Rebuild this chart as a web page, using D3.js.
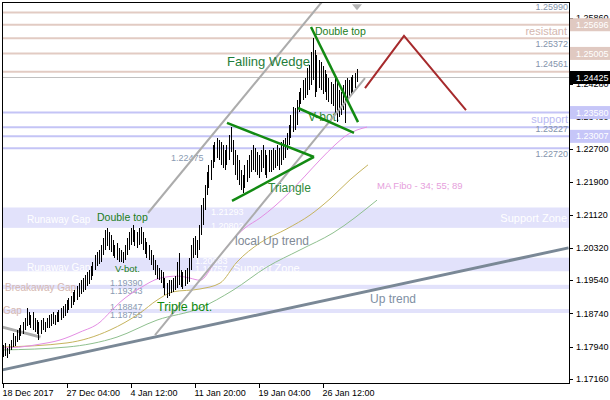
<!DOCTYPE html>
<html><head><meta charset="utf-8">
<script src="https://cdn.jsdelivr.net/npm/d3@7"></script>
<style>body{margin:0;background:#fff}svg{display:block}text{font-family:"Liberation Sans",Arial,sans-serif}</style>
</head><body><svg id="c" width="610" height="400"></svg>
<script>
// ---- data (EURUSD H4, bar index 0 = 18 Dec 2017 00:00) ----
const highs=[1.1798,1.1803,1.1791,1.1800,1.1810,1.1827,1.1820,1.1834,1.1839,1.1846,
1.1853,1.1863,1.1887,1.1878,1.1870,1.1878,1.1863,1.1858,1.1853,1.1858,
1.1863,1.1853,1.1863,1.1870,1.1873,1.1878,1.1870,1.1878,1.1882,1.1887,
1.1892,1.1897,1.1906,1.1911,1.1916,1.1926,1.1931,1.1940,1.1947,1.1955,
1.1959,1.1967,1.1974,1.1979,1.1988,1.1998,1.2015,1.2022,1.2027,1.2039,
1.2056,1.2075,1.2080,1.2070,1.2063,1.2051,1.2039,1.2044,1.2032,1.2027,
1.2022,1.2039,1.2056,1.2070,1.2080,1.2087,1.2075,1.2070,1.2080,1.2082,
1.2070,1.2056,1.2046,1.2039,1.2027,1.2015,1.2003,1.1991,1.1984,1.1979,
1.1974,1.1959,1.1947,1.1955,1.1955,1.1959,1.1964,1.1998,1.2020,1.1979,
1.1974,1.1979,1.1984,1.2008,1.2039,1.2056,1.2061,1.2051,1.2087,1.2135,
1.2152,1.2184,1.2215,1.2232,1.2244,1.2280,1.2287,1.2297,1.2292,1.2287,
1.2280,1.2268,1.2280,1.2304,1.2323,1.2292,1.2268,1.2256,1.2244,1.2220,
1.2208,1.2232,1.2244,1.2256,1.2268,1.2280,1.2273,1.2263,1.2256,1.2268,
1.2280,1.2268,1.2256,1.2268,1.2268,1.2273,1.2268,1.2280,1.2273,1.2287,
1.2292,1.2297,1.2309,1.2328,1.2352,1.2372,1.2369,1.2388,1.2408,1.2417,
1.2437,1.2441,1.2466,1.2473,1.2504,1.2537,1.2509,1.2497,1.2485,1.2480,
1.2470,1.2461,1.2451,1.2441,1.2432,1.2427,1.2441,1.2437,1.2412,1.2408,
1.2425,1.2437,1.2441,1.2437,1.2444,1.2449,1.2453,1.2463];
const lows=[1.1769,1.1771,1.1767,1.1776,1.1786,1.1793,1.1796,1.1805,1.1810,1.1820,
1.1824,1.1834,1.1844,1.1846,1.1839,1.1834,1.1829,1.1824,1.1810,1.1824,
1.1834,1.1829,1.1839,1.1839,1.1844,1.1849,1.1846,1.1853,1.1853,1.1858,
1.1863,1.1868,1.1875,1.1882,1.1887,1.1894,1.1902,1.1906,1.1914,1.1921,
1.1926,1.1931,1.1940,1.1945,1.1955,1.1964,1.1979,1.1988,1.1993,1.1998,
1.2015,1.2027,1.2037,1.2027,1.2022,1.2012,1.2008,1.2003,1.1998,1.1998,
1.1996,1.2003,1.2015,1.2027,1.2039,1.2046,1.2037,1.2032,1.2039,1.2041,
1.2027,1.2017,1.2008,1.2003,1.1991,1.1979,1.1967,1.1957,1.1955,1.1947,
1.1935,1.1918,1.1911,1.1916,1.1923,1.1926,1.1931,1.1935,1.1943,1.1938,
1.1933,1.1940,1.1945,1.1950,1.1979,1.2008,1.2015,1.2008,1.2027,1.2063,
1.2087,1.2123,1.2159,1.2176,1.2196,1.2225,1.2239,1.2249,1.2244,1.2232,
1.2225,1.2220,1.2232,1.2244,1.2263,1.2232,1.2208,1.2196,1.2184,1.2171,
1.2164,1.2176,1.2191,1.2200,1.2215,1.2220,1.2215,1.2208,1.2200,1.2215,
1.2225,1.2208,1.2200,1.2215,1.2215,1.2220,1.2225,1.2229,1.2220,1.2232,
1.2244,1.2249,1.2268,1.2280,1.2297,1.2311,1.2316,1.2328,1.2360,1.2379,
1.2388,1.2393,1.2400,1.2412,1.2425,1.2437,1.2396,1.2408,1.2417,1.2412,
1.2403,1.2408,1.2388,1.2384,1.2379,1.2374,1.2352,1.2335,1.2347,1.2352,
1.2364,1.2333,1.2388,1.2398,1.2403,1.2408,1.2417,1.2432];
const xTickIdx=[0,32,64,96,128,160];
const xTickLabels=["18 Dec 2017","27 Dec 04:00","4 Jan 12:00","11 Jan 20:00","19 Jan 04:00","26 Jan 12:00"];
const yTicks=[1.25860,1.24280,1.23480,1.22700,1.21900,1.21120,1.20320,1.19540,1.18740,1.17940,1.17160];
const resistLevels=[1.25990,1.25696,1.25372,1.25005,1.24561];
const supportLevels=[1.23580,1.23227,1.23007,1.22720];
const resistBoxes=[1.25696,1.25005];
const supportBoxes=[1.23580,1.23007];
const currentPrice=1.24425;
const zones=[[1.20802,1.21293],[1.19757,1.20083],[1.1933,1.1943],[1.18755,1.18847]];
const ma34=[[0,1.1791],[8.75,1.1793],[18.75,1.1800],[28.75,1.1810],[38.75,1.1829],[48.75,1.1853],[53.75,1.1877],[58.75,1.1901],[68.75,1.1935],[78.75,1.1959],[87.75,1.1964],[93.75,1.1959],[98.75,1.1954],[106.25,1.1998],[113.75,1.2044],[121.25,1.2080],[128.75,1.2104],[136.25,1.2133],[143.75,1.2167],[151.25,1.2205],[158.75,1.2244],[166.25,1.2280],[172.25,1.2304],[177.25,1.2316],[182.25,1.2323]];
const ma55=[[0,1.1793],[32.25,1.1803],[53.75,1.1834],[68.75,1.1875],[77.25,1.1906],[85.25,1.1926],[98.75,1.1933],[108.75,1.1947],[117.25,1.1998],[128.75,1.2044],[142.25,1.2078],[153.75,1.2111],[163.75,1.2150],[173.75,1.2196],[182.75,1.2232]];
const ma89=[[0,1.1786],[32.25,1.1793],[57.25,1.1817],[77.25,1.1858],[98.75,1.1887],[115.25,1.1930],[132.25,1.1986],[148.75,1.2027],[165.25,1.2068],[187.25,1.2147]];
const upTrend=[[0,1.1738],[283,1.2032]];
const oldTrend=[[0,1.1841],[19,1.1817]];
const channelA=[[72.75,1.2116],[159.75,1.2625]];
const channelB=[[76.25,1.1822],[181.25,1.2441]];
const triUpper=[[112.25,1.2333],[155.75,1.2251]];
const triLower=[[114.75,1.2145],[155.75,1.2251]];
const wedgeUpper=[[154.25,1.2564],[177.75,1.2335]];
const wedgeLower=[[147.75,1.2369],[175.75,1.2309]];
const projection=[[181.25,1.2417],[200.75,1.2543],[231.75,1.2364]];
const topMarker=[177.25,1.2614];

// ---- layout ----
const svg=d3.select("#c");
const L=2,R=569,T=2,B=383;
const x=d3.scaleLinear().domain([0,283]).range([2.5,568.5]);
const y=d3.scaleLinear().domain([1.17064,1.26244]).range([B,T]);
svg.append("defs").append("clipPath").attr("id","pc").append("rect").attr("x",L).attr("y",T).attr("width",R-L).attr("height",B-T);
const g=svg.append("g").attr("clip-path","url(#pc)");
const line=d3.line().x(d=>x(d[0])).y(d=>y(d[1]));
const smooth=d3.line().x(d=>x(d[0])).y(d=>y(d[1])).curve(d3.curveMonotoneX);

// zones
g.selectAll(".zone").data(zones).join("rect").attr("x",L).attr("width",R-L)
 .attr("y",d=>y(d[1])).attr("height",d=>Math.max(4,y(d[0])-y(d[1]))).attr("fill","#e2e2fb");

function txt(par,i,p,s,opt){
  const t=par.append("text").attr("x",x(i)).attr("y",y(p)).text(s)
   .attr("font-size",opt.size||9).attr("fill",opt.fill||"#000");
  if(opt.anchor)t.attr("text-anchor",opt.anchor);
  return t;
}
// white labels in zones
const W={fill:"#ffffff",size:9};
txt(g,12.25,1.2092,"Runaway Gap",{fill:"#fff",size:10});
txt(g,12.25,1.1976,"Runaway Gap",{fill:"#fff",size:10});
txt(g,104.25,1.2110,"1.21293",W);
txt(g,104.25,1.2078,"1.20802",W);
txt(g,96.25,1.1994,"1.20083",W);
txt(g,96.25,1.1973,"1.19757",W);
txt(g,115.25,1.1974,"Support Zone",{fill:"#fff",size:11});
txt(g,282.25,1.2094,"Support Zone",{fill:"#fff",size:11,anchor:"end"});
txt(g,1.25,1.1928,"Breakaway Gap",{fill:"#d6b8b0",size:10});
txt(g,0.25,1.1873,"Gap",{fill:"#d6b8b0",size:10});

// horizontal levels
g.selectAll(".res").data(resistLevels).join("line").attr("x1",L).attr("x2",R)
 .attr("y1",d=>y(d)).attr("y2",d=>y(d)).attr("stroke","#e2cbc3").attr("stroke-width",2);
g.selectAll(".sup").data(supportLevels).join("line").attr("x1",L).attr("x2",R)
 .attr("y1",d=>y(d)).attr("y2",d=>y(d)).attr("stroke","#c4c4f6").attr("stroke-width",2);
g.append("line").attr("x1",L).attr("x2",R).attr("y1",Math.round(y(currentPrice))+0.5).attr("y2",Math.round(y(currentPrice))+0.5).attr("stroke","#c0c0c0").attr("stroke-width",1);

// level labels
const LB={fill:"#8494ac",size:9,anchor:"end"};
txt(g,282.75,1.2605,"1.25990",LB);
txt(g,282.25,1.2545,"resistant",{fill:"#d4b6ae",size:11,anchor:"end"});
txt(g,282.75,1.2516,"1.25372",LB);
txt(g,282.75,1.2468,"1.24561",LB);
txt(g,282.75,1.2333,"support",{fill:"#b9b9f2",size:11,anchor:"end"});
txt(g,282.75,1.2310,"1.23227",LB);
txt(g,282.75,1.2251,"1.22720",LB);
const PB={fill:"#8a9ab2",size:9};
txt(g,53.75,1.1940,"1.19390",PB);
txt(g,53.75,1.1921,"1.19343",PB);
txt(g,53.75,1.1882,"1.18847",PB);
txt(g,53.75,1.1863,"1.18755",PB);
txt(g,84.25,1.2241,"1.22475",PB);

// moving averages
g.append("path").attr("d",smooth(ma89)).attr("fill","none").attr("stroke","#8fc08f").attr("stroke-width",1);
g.append("path").attr("d",smooth(ma55)).attr("fill","none").attr("stroke","#c6b45e").attr("stroke-width",1);
g.append("path").attr("d",smooth(ma34)).attr("fill","none").attr("stroke","#e48ee4").attr("stroke-width",1);

// trend lines
g.append("path").attr("d",line(upTrend)).attr("stroke","#7a8896").attr("stroke-width",3).attr("fill","none");
g.append("path").attr("d",line(oldTrend)).attr("stroke","#ababab").attr("stroke-width",3).attr("fill","none");

// V-bot label behind bars
const GR="#1a7d1a";
txt(g,152.75,1.2338,"V-bot.",{fill:"#2f8a3a",size:12});

// bars
g.selectAll(".bar").data(highs).join("line")
 .attr("x1",(d,i)=>Math.round(x(i))+0.5).attr("x2",(d,i)=>Math.round(x(i))+0.5)
 .attr("y1",d=>Math.round(y(d))).attr("y2",(d,i)=>Math.round(y(lows[i]))).attr("stroke","#000").attr("stroke-width",1)
 .attr("shape-rendering","crispEdges");

// channel
[channelA,channelB].forEach(c=>g.append("path").attr("d",line(c)).attr("stroke","#acacac").attr("stroke-width",2).attr("fill","none"));
g.append("path").attr("d",`M${x(topMarker[0])-5},${y(topMarker[1])-2}L${x(topMarker[0])+5},${y(topMarker[1])-2}L${x(topMarker[0])},${y(topMarker[1])+4}Z`).attr("fill","#b4b4b4");

// patterns
[triUpper,triLower,wedgeUpper,wedgeLower].forEach(c=>g.append("path").attr("d",line(c)).attr("stroke","#128a12").attr("stroke-width",2.5).attr("fill","none"));
g.append("path").attr("d",line(projection)).attr("stroke","#a62a2c").attr("stroke-width",2).attr("fill","none");

// annotations
txt(g,47.25,1.2097,"Double top",{fill:GR,size:10.5});
txt(g,56.25,1.1974,"V-bot.",{fill:GR,size:9.5});
txt(g,77.25,1.1880,"Triple bot.",{fill:"#0f8a0f",size:12.5});
txt(g,132.75,1.2167,"Triangle",{fill:"#2f8a3a",size:12});
txt(g,112.25,1.2470,"Falling Wedge",{fill:"#1f7d3a",size:13});
txt(g,156.25,1.2545,"Double top",{fill:GR,size:10.5});
txt(g,116.25,1.2039,"local Up trend",{fill:"#7f8a96",size:12});
txt(g,183.75,1.1899,"Up trend",{fill:"#8090a4",size:12});
txt(g,187.25,1.2174,"MA Fibo - 34; 55; 89",{fill:"#e6a0dc",size:9.5});

// frame
svg.append("rect").attr("x",L+0.5).attr("y",T+0.5).attr("width",R-L).attr("height",B-T).attr("fill","none").attr("stroke","#000");

// y axis
const ya=svg.append("g");
ya.selectAll("line").data(yTicks).join("line").attr("x1",R).attr("x2",R+4)
 .attr("y1",d=>Math.round(y(d))+0.5).attr("y2",d=>Math.round(y(d))+0.5).attr("stroke","#000");
ya.selectAll("text").data(yTicks).join("text").attr("x",R+7).attr("y",d=>y(d)).attr("dy","0.35em")
 .attr("font-size",9).attr("fill","#000").text(d=>d.toFixed(5));

// level boxes on axis
function box(p,fill){
  svg.append("rect").attr("x",R+1).attr("y",y(p)-6.5).attr("width",610-R-1).attr("height",13).attr("fill",fill);
  svg.append("text").attr("x",R+7).attr("y",y(p)).attr("dy","0.35em").attr("font-size",9).attr("fill","#fff").text(p.toFixed(5));
}
resistBoxes.forEach(p=>box(p,"#e0c9c1"));
supportBoxes.forEach(p=>box(p,"#c6c6f8"));
box(currentPrice,"#000");

// x axis
const xa=svg.append("g");
xa.selectAll("line").data(xTickIdx).join("line").attr("x1",d=>Math.round(x(d))+0.5).attr("x2",d=>Math.round(x(d))+0.5)
 .attr("y1",B).attr("y2",B+5).attr("stroke","#000");
xa.selectAll("text").data(xTickIdx).join("text").attr("x",d=>x(d)).attr("y",396)
 .attr("font-size",9).attr("fill","#000").text((d,i)=>xTickLabels[i]);
</script></body></html>
